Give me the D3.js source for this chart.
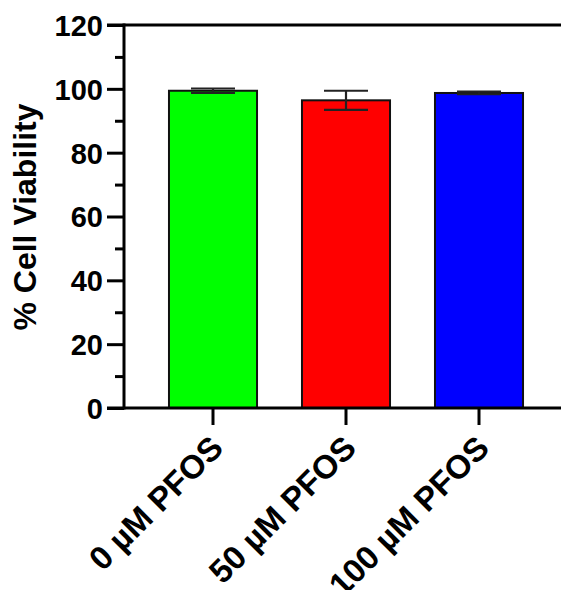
<!DOCTYPE html>
<html>
<head>
<meta charset="utf-8">
<script src="https://cdn.jsdelivr.net/npm/d3@7"></script>
<style>
    body { margin: 0; background: #fff; }
    text { font-family: "Liberation Sans", Arial, sans-serif; font-weight: bold; fill: #000; }
</style>
</head>
<body>
<svg id="chart" width="561" height="590"></svg>
<script>
// data
const groups = ['0 µM PFOS', '50 µM PFOS', '100 µM PFOS'];
const viability = [99.4, 96.4, 98.7];
const sdev = [0.7, 3.0, 0.4];
const barColors = ['#00ff00', '#ff0000', '#0000ff'];
const majorTicks = [0, 20, 40, 60, 80, 100, 120];
const minorTicks = [10, 30, 50, 70, 90, 110];

const svg = d3.select('#chart');
const axisX = 124, baseY = 408, topY = 25;

let y = d3.scaleLinear().domain([0, 120]).range([baseY, topY]);
let x = d3.scaleBand().domain(groups).range([146.5, 545.5])
    .paddingInner(0.338).paddingOuter(0.169);

// Bars
svg.append('g')
    .selectAll('rect')
    .data(groups)
    .join('rect')
    .attr('x', d => x(d))
    .attr('y', (d, i) => y(viability[i]))
    .attr('width', x.bandwidth())
    .attr('height', (d, i) => baseY - y(viability[i]))
    .attr('fill', (d, i) => barColors[i])
    .attr('stroke', '#111')
    .attr('stroke-width', 2);

// Error bars (mean +/- SD)
let err = svg.append('g').attr('stroke', '#222').attr('stroke-width', 2.2);
groups.forEach((g, i) => {
    let cx = x(g) + x.bandwidth() / 2;
    let hi = y(viability[i] + sdev[i]), lo = y(viability[i] - sdev[i]);
    err.append('line').attr('x1', cx).attr('x2', cx).attr('y1', hi).attr('y2', lo);
    err.append('line').attr('x1', cx - 22).attr('x2', cx + 22).attr('y1', hi).attr('y2', hi);
    err.append('line').attr('x1', cx - 22).attr('x2', cx + 22).attr('y1', lo).attr('y2', lo);
});

// Y axis: major and minor ticks
let yMajor = svg.append('g')
    .attr('transform', `translate(${axisX},0)`)
    .call(d3.axisLeft(y).tickValues(majorTicks).tickSize(17).tickPadding(4));
let yMinor = svg.append('g')
    .attr('transform', `translate(${axisX},0)`)
    .call(d3.axisLeft(y).tickValues(minorTicks).tickSize(9).tickFormat(''));
[yMajor, yMinor].forEach(a => {
    a.select('.domain').remove();
    a.selectAll('line').attr('stroke', '#000').attr('stroke-width', 3);
});
yMajor.selectAll('text')
    .style('font-size', '29px')
    .attr('dy', '0.36em');

// X axis
let xAxis = svg.append('g')
    .attr('transform', `translate(0,${baseY})`)
    .call(d3.axisBottom(x).tickSize(17).tickFormat(''));
xAxis.select('.domain').remove();
xAxis.selectAll('line').attr('stroke', '#000').attr('stroke-width', 3);

// axis lines: vertical spine plus the horizontal lines at 0 and 120
svg.append('line')
    .attr('x1', axisX).attr('x2', axisX)
    .attr('y1', topY - 1.5).attr('y2', baseY + 1.5)
    .attr('stroke', '#000').attr('stroke-width', 3);
[0, 120].forEach(v => {
    svg.append('line')
        .attr('x1', 107).attr('x2', 561)
        .attr('y1', y(v)).attr('y2', y(v))
        .attr('stroke', '#000').attr('stroke-width', 3);
});

// rotated category labels
svg.append('g')
    .selectAll('text')
    .data(groups)
    .join('text')
    .attr('transform', d => `translate(${x(d) + x.bandwidth() / 2 + 12},450) rotate(-45)`)
    .attr('text-anchor', 'end')
    .style('font-size', '33px')
    .text(d => d);

// y axis title
svg.append('text')
    .attr('transform', 'translate(36,217) rotate(-90)')
    .attr('text-anchor', 'middle')
    .style('font-size', '32px')
    .text('% Cell Viability');
</script>
</body>
</html>
